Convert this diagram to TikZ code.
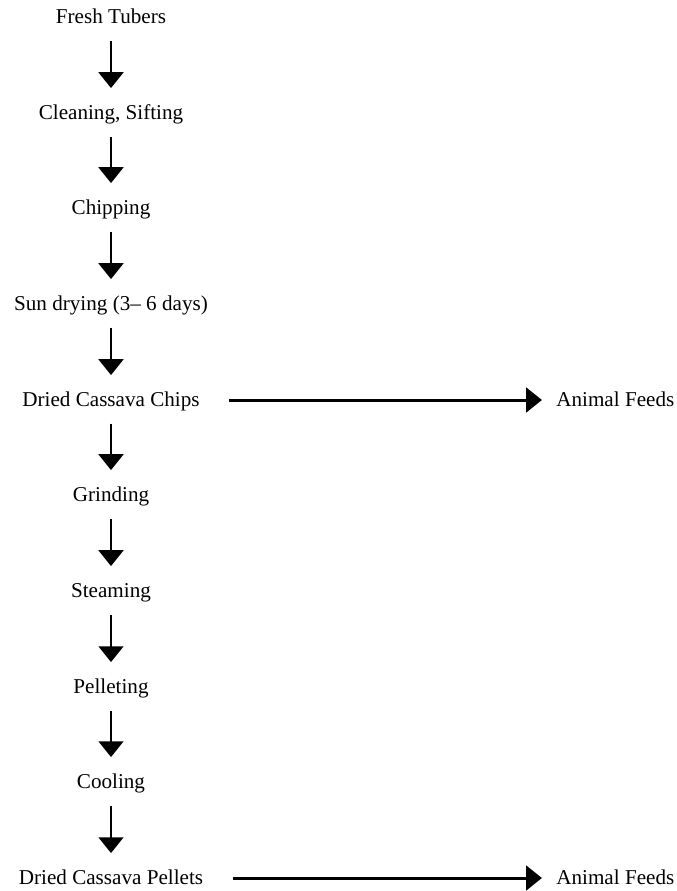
\documentclass[tikz,border=0pt]{standalone}
\usepackage{fontspec}
\setmainfont{Liberation Serif}
\usetikzlibrary{arrows.meta}

\begin{document}
\begin{tikzpicture}[x=0.568pt, y=-0.568pt,
    stage/.style={font=\fontsize{12}{14}\selectfont, inner sep=0pt, text height=9.5pt, text depth=2pt},
    flow/.style={-{Triangle[length=9pt, width=14pt]}, line width=1.7pt, shorten <=7.5pt, shorten >=8.2pt},
    side/.style={-{Triangle[length=9pt, width=14pt]}, line width=1.7pt, shorten <=16.5pt, shorten >=8pt}]
    \useasboundingbox (0,0) rectangle (676,891);
    % Steps
    \node[stage] (tubers) at (111, 17) {Fresh Tubers};
    \node[stage] (clean) at (111, 113) {Cleaning, Sifting};
    \node[stage] (chip) at (111, 208) {Chipping};
    \node[stage] (sun) at (111, 304) {Sun drying (3-- 6 days)};
    \node[stage] (chips) at (111, 400) {Dried Cassava Chips};
    \node[stage] (grind) at (111, 495) {Grinding};
    \node[stage] (steam) at (111, 591) {Steaming};
    \node[stage] (pellet) at (111, 687) {Pelleting};
    \node[stage] (cool) at (111, 782) {Cooling};
    \node[stage] (pellets) at (111, 878) {Dried Cassava Pellets};
    
    % Outputs
    \node[stage, anchor=west] (feed1) at (556, 400) {Animal Feeds};
    \node[stage, anchor=west] (feed2) at (556, 878) {Animal Feeds};
    
    % Arrows
    \draw[flow] (tubers) -- (clean);
    \draw[flow] (clean) -- (chip);
    \draw[flow] (chip) -- (sun);
    \draw[flow] (sun) -- (chips);
    \draw[flow] (chips) -- (grind);
    \draw[flow] (grind) -- (steam);
    \draw[flow] (steam) -- (pellet);
    \draw[flow] (pellet) -- (cool);
    \draw[flow] (cool) -- (pellets);
    \draw[side] (chips) -- (feed1);
    \draw[side] (pellets) -- (feed2);
\end{tikzpicture}
\end{document}
